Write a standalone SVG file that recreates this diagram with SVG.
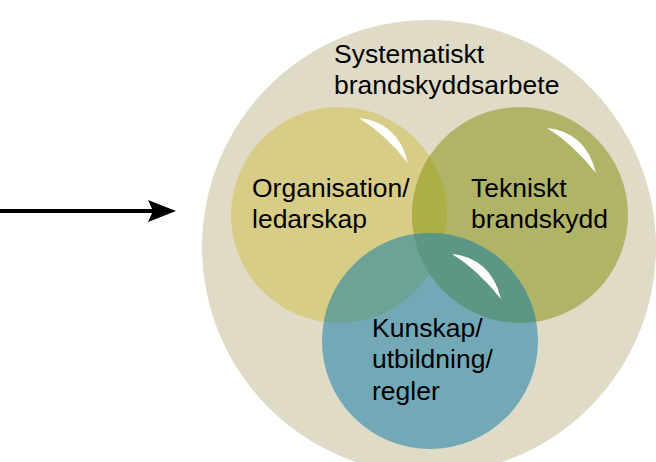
<svg xmlns="http://www.w3.org/2000/svg" width="656" height="462" viewBox="0 0 656 462">
  <style>
    text { font-family: "Liberation Sans", Arial, sans-serif; font-size: 26.5px; fill: #000; }
    .hl { fill: #fff; }
  </style>
  <defs>
    <clipPath id="clipY"><circle cx="339" cy="215" r="108"/></clipPath>
    <clipPath id="clipG"><circle cx="520" cy="215" r="108"/></clipPath>
    <marker id="arrowhead" markerUnits="userSpaceOnUse" viewBox="0 0 28 22" refX="12" refY="11" markerWidth="28" markerHeight="22" orient="auto">
      <path d="M0,0 L28,11 L0,22 L5,11 Z" fill="#000"/>
    </marker>
  </defs>
  <rect width="656" height="462" fill="#fff"/>

  <g id="systematiskt">
    <circle cx="429" cy="247" r="227" fill="#DFDBC7"/>
    <text x="334" y="63">Systematiskt</text>
    <text x="334" y="94">brandskyddsarbete</text>
  </g>

  <g id="organisation">
    <circle cx="339" cy="215" r="108" fill="#D8CD86"/>
  </g>
  <g id="tekniskt">
    <circle cx="520" cy="215" r="108" fill="#B0B467"/>
    <circle cx="339" cy="215" r="108" fill="#ADAE45" clip-path="url(#clipG)"/>
  </g>
  <g id="kunskap">
    <circle cx="430" cy="341" r="108" fill="#73A9B7"/>
    <circle cx="430" cy="341" r="108" fill="#6FA297" clip-path="url(#clipY)"/>
    <circle cx="430" cy="341" r="108" fill="#5C9784" clip-path="url(#clipG)"/>
  </g>

  <g id="highlights">
    <path class="hl" d="M359,118 Q398,122 408,163 Q385,134 359,118 Z"/>
    <path class="hl" d="M547,128 Q586,132 596,173 Q573,144 547,128 Z"/>
    <path class="hl" d="M452,254 Q491,258 501,299 Q478,270 452,254 Z"/>
  </g>

  <g id="labels">
    <text x="252" y="197">Organisation/</text>
    <text x="252" y="228">ledarskap</text>
    <text x="471" y="197">Tekniskt</text>
    <text x="471" y="228">brandskydd</text>
    <text x="372" y="337">Kunskap/</text>
    <text x="372" y="368">utbildning/</text>
    <text x="372" y="400">regler</text>
  </g>

  <g id="connectors">
    <line x1="0" y1="211" x2="160" y2="211" stroke="#000" stroke-width="4" marker-end="url(#arrowhead)"/>
  </g>
</svg>
